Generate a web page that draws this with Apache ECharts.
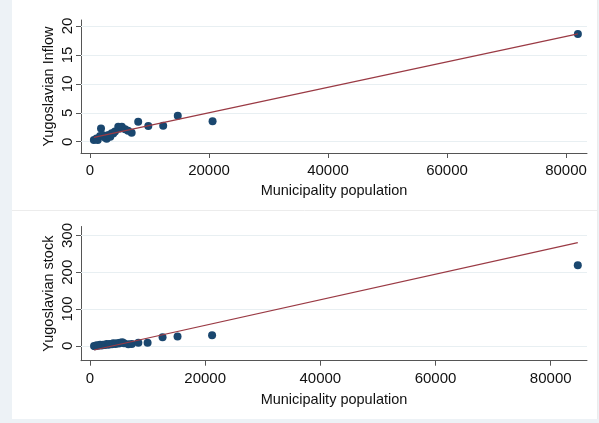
<!DOCTYPE html>
<html>
<head>
<meta charset="utf-8">
<script src="https://cdn.jsdelivr.net/npm/echarts@6/dist/echarts.min.js"></script>
<style>html,body{margin:0;padding:0;background:#edf2f6;}#c{width:599px;height:423px;}</style>
</head>
<body>
<div id="c"></div>
<script>
// ---- data ----
const inflowPoints = [
  [650,0.3],[1100,0.55],[1300,0.3],[1700,1.0],[1850,2.3],[2200,1.1],[2500,0.75],
  [2800,0.5],[3100,1.15],[3400,0.85],[3650,1.45],[3900,1.4],[4200,1.75],[4750,2.6],
  [5000,2.3],[5350,2.6],[5900,2.15],[6400,1.9],[7000,1.55],[8100,3.45],[9800,2.7],
  [12300,2.75],[14750,4.5],[20600,3.55],[82000,18.6]
];
const inflowFit = [[650,0.74],[82000,18.64]];
const stockPoints = [
  [700,-0.5],[900,-1],[1150,1.3],[1400,0],[1750,3],[2000,1],[2300,3],[2600,2],
  [2900,4.9],[3200,3],[3450,4.9],[3800,4],[4050,6.8],[4400,5],[4650,6.8],[5000,6],
  [5200,8.5],[5600,10],[5900,6.8],[6650,4],[7250,4.9],[8400,8.5],[10000,8.5],
  [12600,23],[15200,25],[21200,29],[84700,219]
];
const stockFit = [[700,-11.4],[84700,280.4]];
const xTicks = [0,20000,40000,60000,80000];
const inflowTicks = [0,5,10,15,20];
const stockTicks = [0,100,200,300];
const xTitle = 'Municipality population';
const inflowTitle = 'Yugoslavian Inflow';
const stockTitle = 'Yugoslavian stock';

const FONT = 'Liberation Sans, Arial, Helvetica, sans-serif';
const NAVY = '#1a476f';
const MAROON = '#9a3a44';
const GRIDC = '#e8eff2';
const AXC = '#555555';

function xAxis(gi, min, max, margin, gap) {
  return {
    type:'value', gridIndex:gi, min:min, max:max,
    axisLine:{show:true, onZero:false, lineStyle:{color:AXC, width:1}},
    axisTick:{show:true, length:5, lineStyle:{color:AXC}, customValues:xTicks},
    axisLabel:{color:'#111', fontFamily:FONT, fontSize:15, margin:margin, customValues:xTicks, formatter:v=>String(v)},
    splitLine:{show:false},
    name:xTitle, nameLocation:'middle', nameGap:gap, nameMoveOverlap:false,
    nameTextStyle:{color:'#111', fontFamily:FONT, fontSize:14.5}
  };
}
function yAxis(gi, min, max, ticks, title) {
  return {
    type:'value', gridIndex:gi, min:min, max:max,
    axisLine:{show:true, onZero:false, lineStyle:{color:AXC, width:1}},
    axisTick:{show:true, length:5, lineStyle:{color:AXC}, customValues:ticks},
    axisLabel:{color:'#111', fontFamily:FONT, fontSize:15, margin:6, rotate:90, customValues:ticks, formatter:v=>String(v)},
    splitLine:{show:false},
    name:title, nameLocation:'middle', nameGap:25, nameRotate:90, nameMoveOverlap:false,
    nameTextStyle:{color:'#111', fontFamily:FONT, fontSize:14.5}
  };
}
function gridLines(xi, yi, ticks) {
  return {
    type:'line', xAxisIndex:xi, yAxisIndex:yi, data:[], z:1, silent:true,
    markLine:{silent:true, symbol:'none', z:1, label:{show:false},
      lineStyle:{color:GRIDC, width:1, type:'solid'},
      data:ticks.map(v=>({yAxis:v}))}
  };
}

const chart = echarts.init(document.getElementById('c'), null, {renderer:'canvas'});
chart.setOption({
  backgroundColor:'#edf2f6',
  animation:false,
  graphic:[
    {type:'rect', shape:{x:12,y:0,width:585,height:419}, style:{fill:'#ffffff'}, z:-10, silent:true},
    {type:'line', shape:{x1:12,y1:210.5,x2:597,y2:210.5}, style:{stroke:'#ececec', lineWidth:1}, z:-9, silent:true},
    {type:'line', shape:{x1:597.5,y1:0,x2:597.5,y2:419}, style:{stroke:'#ececec', lineWidth:1}, z:-9, silent:true}
  ],
  grid:[
    {left:81, top:20, width:506, height:133, containLabel:false},
    {left:81, top:226.5, width:506, height:134.2, containLabel:false}
  ],
  xAxis:[ xAxis(0,-1513,83529,10,30), xAxis(1,-1563,86300,11,32) ],
  yAxis:[ yAxis(0,-1.95,21.04,inflowTicks,inflowTitle), yAxis(1,-40.5,324.4,stockTicks,stockTitle) ],
  series:[
    gridLines(0,0,inflowTicks),
    gridLines(1,1,stockTicks),
    {type:'scatter', xAxisIndex:0, yAxisIndex:0, data:inflowPoints, symbolSize:8, z:3,
      itemStyle:{color:NAVY, opacity:1}},
    {type:'line', xAxisIndex:0, yAxisIndex:0, data:inflowFit, showSymbol:false, symbol:'none', z:6,
      lineStyle:{color:MAROON, width:1.2}},
    {type:'scatter', xAxisIndex:1, yAxisIndex:1, data:stockPoints, symbolSize:8, z:3,
      itemStyle:{color:NAVY, opacity:1}},
    {type:'line', xAxisIndex:1, yAxisIndex:1, data:stockFit, showSymbol:false, symbol:'none', z:6,
      lineStyle:{color:MAROON, width:1.2}}
  ]
});
</script>
</body>
</html>
